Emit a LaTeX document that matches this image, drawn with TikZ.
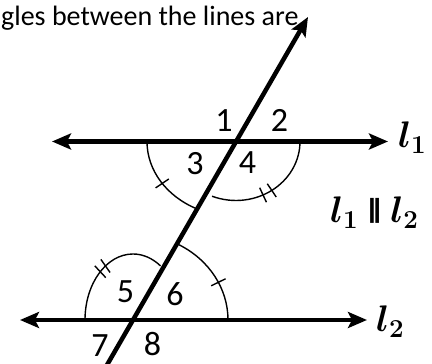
\RequirePackage{fix-cm}
\documentclass[tikz,border=0pt]{standalone}
\usepackage{fontspec}
\setmainfont{Carlito}
\newfontfamily\dejavu{DejaVu Sans}
\usepackage{graphicx}
\usetikzlibrary{arrows.meta}
\begin{document}
\begin{tikzpicture}[x=1pt,y=1pt,
  mainline/.style={line width=4.5pt, {Stealth[length=19pt,width=16pt,inset=4pt]}-{Stealth[length=19pt,width=16pt,inset=4pt]}},
  transline/.style={line width=4.5pt, -{Stealth[length=19pt,width=16pt,inset=4pt]}},
  arcline/.style={line width=1.4pt},
  digit/.style={anchor=base, inner sep=0pt, font=\fontsize{34}{34}\selectfont},
  mathlabel/.style={anchor=base west, inner sep=0pt, font=\fontsize{37}{37}\selectfont\boldmath}]
\useasboundingbox (0,0) rectangle (432,364);
\clip (0,0) rectangle (432,364);
% key points
\coordinate (P1) at (236,222.5);
\coordinate (P2) at (133,44);
\coordinate (l1L) at (52,222.5);
\coordinate (l1R) at (388,222.5);
\coordinate (l2L) at (20,44);
\coordinate (l2R) at (367,44);
\coordinate (T) at (308,347);
\coordinate (B) at (104.1,-6);
% angle arcs (drawn first, under the lines)
\draw[arcline,shift={(P1)}] (180:89 and 75) arc[start angle=180,end angle=244,x radius=89,y radius=75];
\draw[arcline,shift={(P1)}] (214:81 and 67) -- (214:97 and 83);
\draw[arcline,shift={(P1)}] (248:64 and 59) arc[start angle=248,end angle=360,x radius=64,y radius=59];
\draw[arcline,shift={(P1)}] (295:56 and 51) -- (295:72 and 67);
\draw[arcline,shift={(P1)}] (304:56 and 51) -- (304:72 and 67);
\draw[arcline,shift={(P2)}] (180:48 and 66) arc[start angle=180,end angle=55,x radius=48,y radius=66];
\draw[arcline,shift={(P2)}] (125:40 and 58) -- (125:56 and 74);
\draw[arcline,shift={(P2)}] (133:40 and 58) -- (133:56 and 74);
\draw[arcline,shift={(P2)}] (61:95 and 86) arc[start angle=61,end angle=0,x radius=95,y radius=86];
\draw[arcline,shift={(P2)}] (26:87 and 78) -- (26:103 and 94);
% lines
\draw[mainline] (l1L) -- (l1R);
\draw[mainline] (l2L) -- (l2R);
\draw[transline] (B) -- (T);
% angle numbers
\node[digit] (n1) at (224,232) {1};
\node[digit] (n2) at (279.5,232) {2};
\node[digit] (n3) at (195,189) {3};
\node[digit] (n4) at (247.5,190) {4};
\node[digit] (n5) at (125.5,61) {5};
\node[digit] (n6) at (175,58) {6};
\node[digit] (n7) at (100,7) {7};
\node[digit] (n8) at (152.5,8) {8};
% line labels
\node[mathlabel] (lab1) at (398,216) {$l_1$};
\node[mathlabel] (lab2) at (376,32) {$l_2$};
\node[mathlabel] (par) at (330,141) {$l_1$\hspace{8pt}\raisebox{5.5pt}{\scalebox{1.3}[1]{\dejavu\bfseries\fontsize{25}{25}\selectfont ‖}}\hspace{8pt}$l_2$};
% header text
\node[anchor=base west, inner sep=0pt, font=\fontsize{28}{30}\selectfont] (hdr) at (1,338) {gles between the lines are};
\end{tikzpicture}
\end{document}
